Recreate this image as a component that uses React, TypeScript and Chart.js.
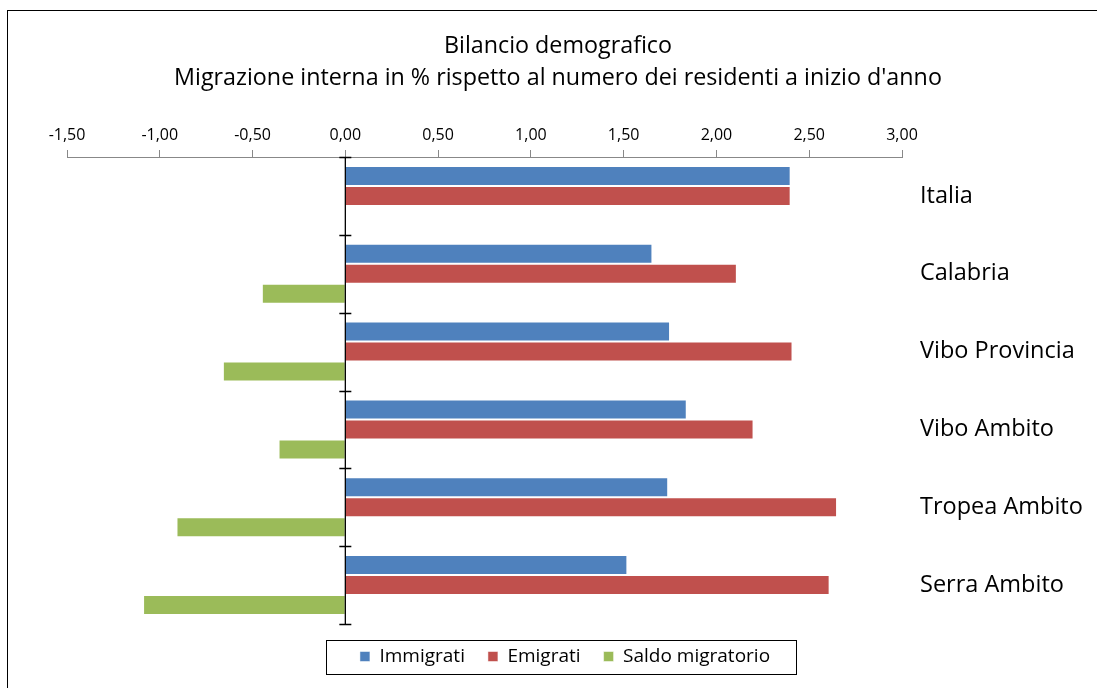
import React, { useEffect, useRef } from "react";
import { Chart, registerables } from "chart.js";

Chart.register(...registerables);

const categories = ["Italia", "Calabria", "Vibo Provincia", "Vibo Ambito", "Tropea Ambito", "Serra Ambito"];
const immigrati = [2.40, 1.655, 1.75, 1.84, 1.74, 1.52];
const emigrati = [2.40, 2.11, 2.41, 2.20, 2.65, 2.61];
const saldo = [0.0, -0.45, -0.66, -0.36, -0.91, -1.09];
const titleLines = ["Bilancio demografico", "Migrazione interna in % rispetto al numero dei residenti a inizio d'anno"];
const FONT = "'Open Sans', 'Noto Sans', sans-serif";
const LEGEND_PAD = 23;

const titlePlugin = {
  id: "titleLines",
  afterDraw(chart: any) {
    const ctx = chart.ctx;
    ctx.save();
    ctx.fillStyle = "#000";
    ctx.font = `23.3px ${FONT}`;
    ctx.textAlign = "center";
    ctx.textBaseline = "middle";
    ctx.fillText(titleLines[0], 558, 46);
    ctx.fillText(titleLines[1], 558, 78);
    ctx.restore();
  },
};

const zeroAxisPlugin = {
  id: "zeroAxis",
  afterDatasetsDraw(chart: any) {
    const ctx = chart.ctx;
    const x0 = chart.scales.x.getPixelForValue(0);
    const area = chart.chartArea;
    const n = categories.length;
    ctx.save();
    ctx.strokeStyle = "#000";
    ctx.lineWidth = 1.3;
    ctx.beginPath();
    ctx.moveTo(x0, area.top);
    ctx.lineTo(x0, area.bottom);
    for (let i = 0; i <= n; i++) {
      const y = Math.round(area.top + (i * (area.bottom - area.top)) / n) + 0.5;
      ctx.moveTo(x0 - 6, y);
      ctx.lineTo(x0 + 6, y);
    }
    ctx.stroke();
    ctx.restore();
  },
};

const legendBoxPlugin = {
  id: "legendBox",
  afterUpdate(chart: any) {
    const lg = chart.legend;
    if (!lg) return;
    lg.left -= 17;
    lg.right -= 17;
  },
  afterDraw(chart: any) {
    const lg = chart.legend;
    if (!lg || !lg.lineWidths || !lg.lineWidths.length) return;
    const lw = lg.lineWidths[0];
    const start = (lg.left + LEGEND_PAD + lg.right - lw) / 2;
    const end = start + lw - LEGEND_PAD;
    const cy = lg.top + 33;
    const ctx = chart.ctx;
    ctx.save();
    ctx.strokeStyle = "#000";
    ctx.lineWidth = 1;
    ctx.strokeRect(Math.round(start - 34) + 0.5, Math.round(cy - 17) + 0.5, Math.round(end - start + 60), 34);
    ctx.restore();
  },
};

export default function App() {
  const ref = useRef<HTMLCanvasElement>(null);
  useEffect(() => {
    if (!ref.current) return;
    const chart = new Chart(ref.current, {
      type: "bar",
      data: {
        labels: categories,
        datasets: [
          { label: "Immigrati", data: immigrati, backgroundColor: "#4F81BD", borderColor: "rgba(255,255,255,0.5)", borderWidth: 1 },
          { label: "Emigrati", data: emigrati, backgroundColor: "#C0504D", borderColor: "rgba(255,255,255,0.5)", borderWidth: 1 },
          { label: "Saldo migratorio", data: saldo, backgroundColor: "#9BBB59", borderColor: "rgba(255,255,255,0.5)", borderWidth: 1 },
        ],
      },
      options: {
        indexAxis: "y",
        animation: false,
        responsive: false,
        maintainAspectRatio: false,
        layout: { padding: { left: 67, top: 117, right: 0, bottom: 12 } },
        plugins: {
          title: { display: false },
          tooltip: { enabled: false },
          legend: {
            display: true,
            position: "bottom",
            labels: {
              boxWidth: 10,
              boxHeight: 10,
              padding: LEGEND_PAD,
              color: "#000",
              font: { family: FONT, size: 19 },
            },
          },
        },
        scales: {
          x: {
            position: "top",
            min: -1.5,
            max: 3,
            ticks: {
              stepSize: 0.5,
              color: "#000",
              font: { family: FONT, size: 16 },
              padding: 5,
              callback: (v: any) => Number(v).toFixed(2).replace(".", ","),
            },
            grid: { drawOnChartArea: false, drawTicks: true, tickLength: 7, color: "#888" },
            border: { display: true, color: "#888", width: 1 },
            afterFit: (s: any) => { s.height = 40; },
          },
          y: {
            position: "right",
            grid: { display: false },
            border: { display: false },
            ticks: {
              color: "#000",
              font: { family: FONT, size: 23.5 },
              crossAlign: "near",
              padding: 10,
            },
            afterFit: (s: any) => { s.width = 195; },
          },
        },
        datasets: { bar: { categoryPercentage: 0.77, barPercentage: 1 } },
      } as any,
      plugins: [titlePlugin, zeroAxisPlugin, legendBoxPlugin],
    });
    return () => chart.destroy();
  }, []);
  return (
    <div style={{ position: "fixed", left: 0, top: 0, width: 1097, height: 688, overflow: "hidden", background: "#fff" }}>
      <div style={{ position: "absolute", left: 7, top: 10, width: 1200, height: 800, border: "1px solid #000" }} />
      <canvas ref={ref} width={1097} height={688} style={{ position: "absolute", left: 0, top: 0, width: 1097, height: 688 }} />
    </div>
  );
}
